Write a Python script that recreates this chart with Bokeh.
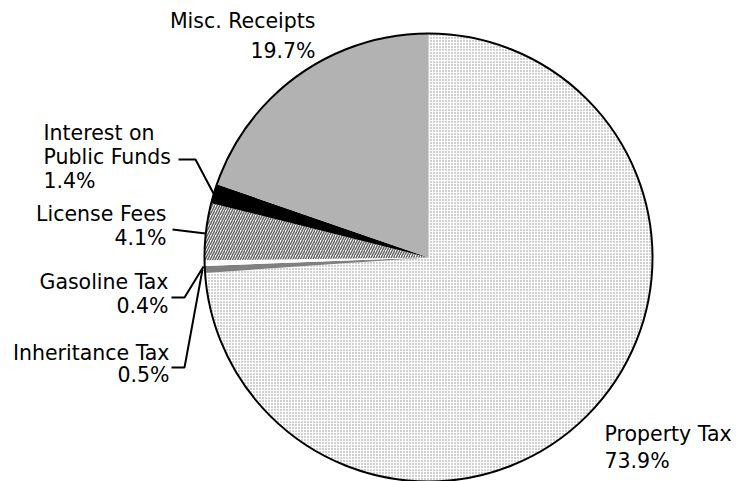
import math
from bokeh.plotting import figure
from bokeh.models import Range1d
from bokeh.core.properties import value
from bokeh.embed import file_html
from bokeh.resources import INLINE

categories = ["Property Tax", "Inheritance Tax", "Gasoline Tax", "License Fees",
              "Interest on Public Funds", "Misc. Receipts"]
shares = [73.9, 0.5, 0.4, 4.1, 1.4, 19.7]

W, H = 736, 481
CX, CY, R = 428, 257, 224
FONT = "DejaVu Sans"
FS = "20.5px"

def Y(s):
    return H - s

p = figure(width=W, height=H, output_backend="svg", toolbar_location=None,
           x_range=Range1d(0, W), y_range=Range1d(0, H), min_border=0)
p.axis.visible = False
p.grid.visible = False
p.outline_line_color = None
p.background_fill_color = "white"
p.border_fill_color = "white"

fills = ["white", "#808080", "white", "white", "black", "#b2b2b2"]
hatches = ["dot", " ", " ", "/", " ", " "]
hcolors = ["#8a8a8a", None, None, "#666666", None, None]
hscales = [3, 1, 1, 5, 1, 1]
hweights = [1, 1, 1, 1.5, 1, 1]

total = sum(shares)
cum = 0.0
for i, s in enumerate(shares):
    a_start = math.pi / 2 - (cum + s) / total * 2 * math.pi
    a_end = math.pi / 2 - cum / total * 2 * math.pi
    cum += s
    kw = {}
    if hatches[i] != " ":
        kw = dict(hatch_pattern=hatches[i], hatch_color=hcolors[i],
                  hatch_scale=hscales[i], hatch_weight=hweights[i])
    p.wedge(x=CX, y=Y(CY), radius=R, start_angle=a_start, end_angle=a_end,
            fill_color=fills[i], line_color=None, **kw)

p.arc(x=CX, y=Y(CY), radius=R, start_angle=0, end_angle=2 * math.pi,
      line_color="black", line_width=2)

# labels: (lines, x, first-line center y, align, line height)
labels = [
    ([categories[0], f"{shares[0]:.1f}%"], 604, 433, "left", 27),
    ([categories[1], f"{shares[1]:.1f}%"], 169, 352, "right", 22),
    ([categories[2], f"{shares[2]:.1f}%"], 168, 281, "right", 24),
    (["License Fees", f"{shares[3]:.1f}%"], 166, 213, "right", 24),
    (["Interest on", "Public Funds", f"{shares[4]:.1f}%"], 43, 132, "left", 24),
    ([categories[5], f"{shares[5]:.1f}%"], 315, 20, "right", 30),
]
for lines, x, y0, align, lh in labels:
    for k, t in enumerate(lines):
        p.text(x=[x], y=[Y(y0 + k * lh)], text=[t], text_align=align,
               text_baseline="middle", text_font=value(FONT),
               text_font_size=FS, text_color="black")

leaders = [
    ([171, 184, 202], [367, 367, 269]),
    ([171, 184, 203], [297, 297, 266]),
    ([172, 205], [229, 233]),
    ([178, 195, 213], [159, 159, 193]),
]
for xs, ys in leaders:
    p.line(xs, [Y(v) for v in ys], line_color="black", line_width=2)

open("out.html", "w").write(file_html(p, INLINE))
